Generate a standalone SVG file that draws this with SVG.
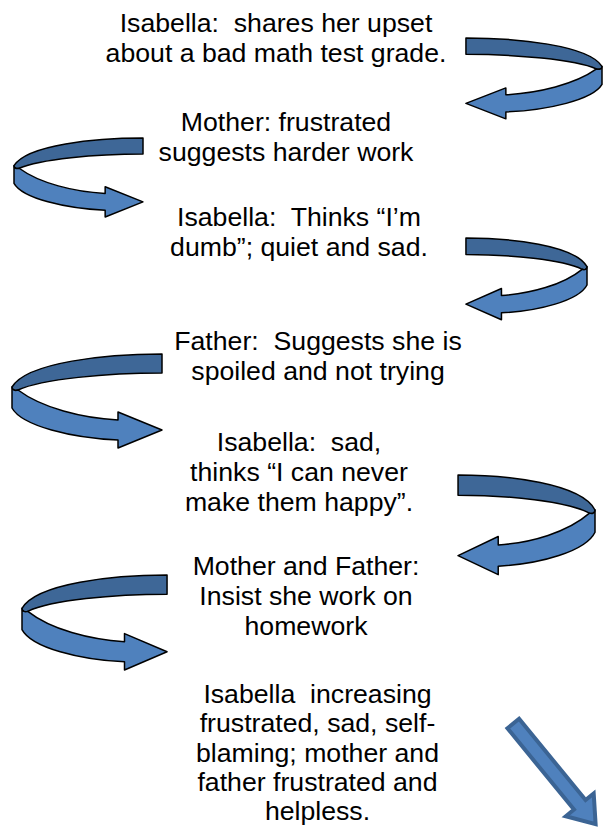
<svg xmlns="http://www.w3.org/2000/svg" width="603" height="832" viewBox="0 0 603 832">
<defs>
<style>
.t{font-family:"Liberation Sans",Arial,sans-serif;font-size:26.67px;fill:#000;text-anchor:middle}
.dk{fill:#3e6797;stroke:#000;stroke-width:1.5;stroke-linejoin:round;vector-effect:non-scaling-stroke}
.lt{fill:#4f81bd;stroke:#000;stroke-width:1.5;stroke-linejoin:round;vector-effect:non-scaling-stroke}
</style>
<g id="curl">
<path class="dk" d="M150,0 C95,0 15,8 0,33 C0,36 3,37 6,36 C30,25 95,19 150,19 Z"/>
<path class="lt" d="M6,36 C30,54 70,64 106,66 L106,58 L150,76 L106,94 L106,86 C60,84 10,72 0,54 L0,33 C0,36 3,37 6,36 Z"/>
</g>
</defs>
<g id="connectors">
<use href="#curl" transform="translate(602,38) scale(-0.907,0.86)"/>
<use href="#curl" transform="translate(14,138) scale(0.86,0.84)"/>
<use href="#curl" transform="translate(587,238) scale(-0.807,0.87)"/>
<use href="#curl" transform="translate(12,354) scale(1,1)"/>
<use href="#curl" transform="translate(595,475) scale(-0.913,1.06)"/>
<use href="#curl" transform="translate(22,575) scale(0.967,1.01)"/>
<polygon points="2,-7.5 107,-7.5 107,-18 132,0 107,18 107,7.5 2,7.5" transform="translate(512,722) rotate(50.7)" fill="#4f81bd" stroke="#3b6494" stroke-width="4" stroke-linejoin="miter"/>
</g>
<g id="n1">
<text class="t" x="276" y="32" xml:space="preserve">Isabella:  shares her upset</text>
<text class="t" x="276" y="62">about a bad math test grade.</text>
</g>
<g id="n2">
<text class="t" x="286" y="131">Mother: frustrated</text>
<text class="t" x="286" y="161">suggests harder work</text>
</g>
<g id="n3">
<text class="t" x="299" y="226" xml:space="preserve">Isabella:  Thinks “I’m</text>
<text class="t" x="299" y="256">dumb”; quiet and sad.</text>
</g>
<g id="n4">
<text class="t" x="318" y="350" xml:space="preserve">Father:  Suggests she is</text>
<text class="t" x="318" y="380">spoiled and not trying</text>
</g>
<g id="n5">
<text class="t" x="299" y="451" xml:space="preserve">Isabella:  sad,</text>
<text class="t" x="299" y="481">thinks “I can never</text>
<text class="t" x="299" y="511">make them happy”.</text>
</g>
<g id="n6">
<text class="t" x="306" y="575">Mother and Father:</text>
<text class="t" x="306" y="605">Insist she work on</text>
<text class="t" x="306" y="635">homework</text>
</g>
<g id="n7">
<text class="t" x="317.5" y="703" xml:space="preserve">Isabella  increasing</text>
<text class="t" x="317.5" y="732">frustrated, sad, self-</text>
<text class="t" x="317.5" y="762">blaming; mother and</text>
<text class="t" x="317.5" y="791">father frustrated and</text>
<text class="t" x="317.5" y="820">helpless.</text>
</g>
</svg>
